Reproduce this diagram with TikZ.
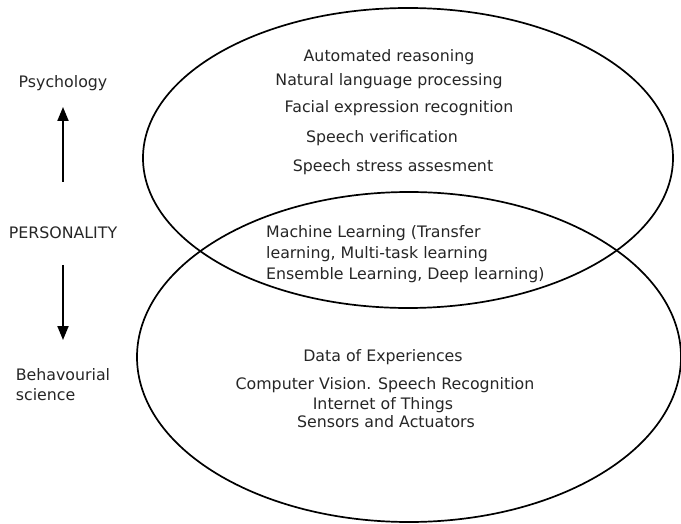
\documentclass[tikz,border=0pt]{standalone}
\usepackage{fontspec}
\setmainfont{DejaVu Sans}
\usetikzlibrary{arrows.meta}

\begin{document}
\begin{tikzpicture}[x=1pt, y=-1pt, every node/.style={font=\fontsize{15.8}{20}\selectfont, text=black!85, inner sep=0pt},
    ring/.style={line width=1.7pt},
    arr/.style={line width=1.9pt, -{Triangle[length=14pt, width=11pt]}}]
    \useasboundingbox (0,0) rectangle (681,524);

    % the two sets
    \draw[ring] (408,158) ellipse [x radius=265, y radius=150];
    \draw[ring] (409,357) ellipse [x radius=272, y radius=165];

    % left column
    \node (psy) at (63,83) {Psychology};
    \node (pers) at (63,233) {PERSONALITY};
    \node[align=left] (beh) at (63,385) {Behavourial\\science};

    \draw[arr, shorten <=51pt, shorten >=24pt] (pers.center) -- (psy.center);
    \draw[arr, shorten <=32pt, shorten >=45pt] (pers.center) -- (beh.center);

    % upper set
    \node (ar) at (389,57) {Automated reasoning};
    \node (nlp) at (389,81) {Natural language processing};
    \node (fer) at (399,108) {Facial expression recognition};
    \node (sv) at (382,138) {Speech verification};
    \node (ssa) at (393,167) {Speech stress assesment};

    % overlap
    \node[align=left, anchor=west, font=\fontsize{15.8}{21}\selectfont] (ml) at (266,254)
        {Machine Learning (Transfer\\learning, Multi-task learning\\Ensemble Learning, Deep learning)};

    % lower set
    \node (doe) at (383,357) {Data of Experiences};
    \node (cv) at (385,385) {Computer Vision. Speech Recognition};
    \node (iot) at (383,405) {Internet of Things};
    \node (sa) at (386,422) {Sensors and Actuators};
\end{tikzpicture}
\end{document}
